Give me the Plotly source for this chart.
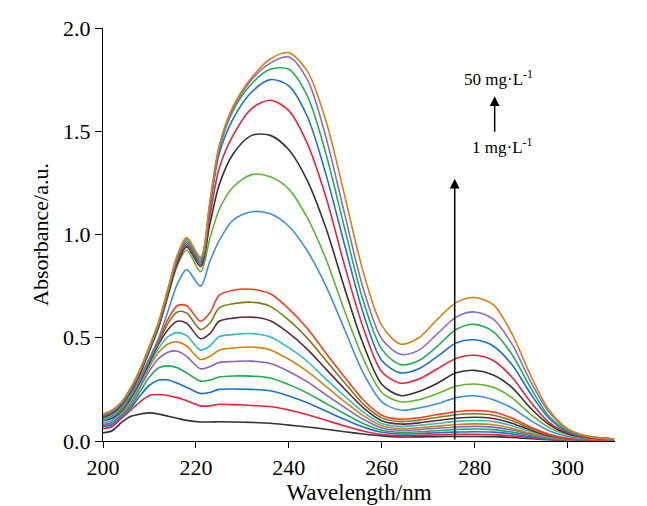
import plotly.graph_objects as go

wavelength = [200, 202, 204, 206, 208, 210, 212, 214, 216, 218, 221, 223, 225, 228, 232,
              236, 240, 244, 248, 252, 256, 260, 264, 268, 272, 276, 280, 284, 288, 292,
              296, 300, 305, 310]

# low-concentration curves (bottom to top)
s01 = [0.04, 0.05, 0.09, 0.12, 0.13, 0.136, 0.13, 0.12, 0.11, 0.10, 0.092, 0.092, 0.093, 0.092, 0.09, 0.086, 0.077, 0.068, 0.057, 0.045, 0.034, 0.025, 0.02, 0.02, 0.021, 0.022, 0.022, 0.021, 0.017, 0.011, 0.006, 0.003, 0.002, 0.001]
s02 = [0.06, 0.07, 0.11, 0.15, 0.19, 0.22, 0.225, 0.22, 0.21, 0.195, 0.17, 0.17, 0.178, 0.176, 0.172, 0.167, 0.15, 0.127, 0.10, 0.073, 0.048, 0.031, 0.025, 0.027, 0.03, 0.032, 0.033, 0.031, 0.025, 0.016, 0.008, 0.004, 0.002, 0.001]
s03 = [0.07, 0.08, 0.12, 0.16, 0.22, 0.27, 0.295, 0.295, 0.28, 0.26, 0.23, 0.235, 0.25, 0.252, 0.25, 0.243, 0.218, 0.185, 0.145, 0.105, 0.068, 0.042, 0.034, 0.036, 0.04, 0.043, 0.045, 0.043, 0.034, 0.021, 0.01, 0.005, 0.002, 0.002]
s04 = [0.075, 0.09, 0.125, 0.17, 0.24, 0.31, 0.355, 0.364, 0.355, 0.33, 0.29, 0.295, 0.31, 0.315, 0.314, 0.305, 0.273, 0.232, 0.182, 0.132, 0.085, 0.052, 0.042, 0.045, 0.05, 0.056, 0.058, 0.055, 0.043, 0.027, 0.013, 0.006, 0.003, 0.002]
s05 = [0.08, 0.09, 0.13, 0.18, 0.26, 0.34, 0.40, 0.43, 0.435, 0.41, 0.35, 0.36, 0.38, 0.385, 0.387, 0.375, 0.337, 0.286, 0.224, 0.163, 0.105, 0.063, 0.052, 0.055, 0.062, 0.068, 0.071, 0.067, 0.053, 0.033, 0.016, 0.007, 0.003, 0.002]
s06 = [0.085, 0.10, 0.135, 0.19, 0.27, 0.36, 0.43, 0.47, 0.48, 0.46, 0.395, 0.41, 0.44, 0.45, 0.455, 0.441, 0.396, 0.337, 0.264, 0.191, 0.123, 0.074, 0.06, 0.064, 0.072, 0.08, 0.083, 0.079, 0.062, 0.038, 0.018, 0.008, 0.003, 0.002]
s07 = [0.09, 0.10, 0.14, 0.20, 0.28, 0.37, 0.45, 0.505, 0.525, 0.51, 0.44, 0.46, 0.505, 0.515, 0.52, 0.504, 0.452, 0.385, 0.30, 0.218, 0.14, 0.085, 0.071, 0.076, 0.085, 0.095, 0.099, 0.094, 0.074, 0.046, 0.022, 0.009, 0.004, 0.002]
s08 = [0.10, 0.11, 0.145, 0.21, 0.29, 0.38, 0.47, 0.54, 0.58, 0.57, 0.495, 0.52, 0.58, 0.595, 0.60, 0.582, 0.522, 0.444, 0.348, 0.252, 0.162, 0.098, 0.082, 0.088, 0.099, 0.11, 0.115, 0.109, 0.086, 0.053, 0.025, 0.01, 0.004, 0.003]
s09 = [0.11, 0.12, 0.15, 0.22, 0.30, 0.39, 0.48, 0.57, 0.625, 0.62, 0.54, 0.57, 0.645, 0.665, 0.672, 0.652, 0.585, 0.497, 0.39, 0.282, 0.18, 0.112, 0.094, 0.101, 0.114, 0.127, 0.132, 0.125, 0.099, 0.061, 0.029, 0.011, 0.005, 0.003]
s10 = [0.12, 0.13, 0.16, 0.22, 0.31, 0.40, 0.49, 0.59, 0.655, 0.655, 0.58, 0.62, 0.705, 0.73, 0.735, 0.713, 0.64, 0.545, 0.425, 0.31, 0.20, 0.125, 0.105, 0.113, 0.128, 0.142, 0.148, 0.14, 0.111, 0.068, 0.033, 0.013, 0.005, 0.003]
# high-concentration curves
s11 = [0.10, 0.12, 0.16, 0.22, 0.30, 0.40, 0.50, 0.63, 0.76, 0.83, 0.75, 0.87, 0.97, 1.07, 1.11, 1.10, 1.04, 0.92, 0.75, 0.54, 0.33, 0.19, 0.15, 0.16, 0.18, 0.21, 0.219, 0.20, 0.16, 0.10, 0.05, 0.022, 0.01, 0.006]
s12 = [0.11, 0.13, 0.17, 0.235, 0.325, 0.435, 0.55, 0.70, 0.85, 0.925, 0.82, 0.98, 1.12, 1.23, 1.29, 1.28, 1.22, 1.08, 0.88, 0.63, 0.40, 0.235, 0.19, 0.20, 0.23, 0.265, 0.276, 0.26, 0.21, 0.13, 0.065, 0.03, 0.012, 0.008]
s13 = [0.115, 0.135, 0.175, 0.24, 0.33, 0.44, 0.555, 0.71, 0.86, 0.94, 0.845, 1.05, 1.24, 1.39, 1.48, 1.48, 1.41, 1.26, 1.03, 0.74, 0.47, 0.275, 0.22, 0.24, 0.28, 0.33, 0.342, 0.32, 0.26, 0.16, 0.08, 0.035, 0.015, 0.01]
s14 = [0.12, 0.14, 0.18, 0.245, 0.335, 0.445, 0.56, 0.72, 0.87, 0.95, 0.855, 1.09, 1.32, 1.48, 1.61, 1.65, 1.60, 1.44, 1.18, 0.85, 0.55, 0.335, 0.28, 0.30, 0.35, 0.40, 0.415, 0.39, 0.31, 0.19, 0.09, 0.04, 0.015, 0.01]
s15 = [0.12, 0.14, 0.18, 0.25, 0.34, 0.45, 0.565, 0.725, 0.88, 0.96, 0.865, 1.13, 1.39, 1.56, 1.69, 1.75, 1.72, 1.57, 1.29, 0.95, 0.62, 0.39, 0.33, 0.35, 0.41, 0.475, 0.49, 0.46, 0.37, 0.23, 0.11, 0.045, 0.02, 0.01]
s16 = [0.125, 0.145, 0.185, 0.25, 0.34, 0.45, 0.57, 0.73, 0.89, 0.97, 0.875, 1.14, 1.41, 1.60, 1.73, 1.80, 1.80, 1.67, 1.39, 1.03, 0.68, 0.445, 0.37, 0.39, 0.46, 0.54, 0.565, 0.53, 0.42, 0.26, 0.12, 0.05, 0.02, 0.01]
s17 = [0.125, 0.145, 0.185, 0.255, 0.345, 0.455, 0.575, 0.735, 0.895, 0.98, 0.885, 1.15, 1.42, 1.61, 1.75, 1.83, 1.86, 1.75, 1.47, 1.10, 0.74, 0.495, 0.42, 0.44, 0.52, 0.60, 0.625, 0.59, 0.47, 0.29, 0.14, 0.055, 0.02, 0.01]
s18 = [0.13, 0.15, 0.19, 0.26, 0.35, 0.46, 0.58, 0.74, 0.90, 0.985, 0.89, 1.16, 1.43, 1.62, 1.76, 1.85, 1.88, 1.79, 1.55, 1.19, 0.82, 0.56, 0.47, 0.50, 0.59, 0.67, 0.695, 0.66, 0.52, 0.32, 0.15, 0.06, 0.02, 0.01]

series = [s01, s02, s03, s04, s05, s06, s07, s08, s09, s10,
          s11, s12, s13, s14, s15, s16, s17, s18]
colors = ["#333333", "#F0203C", "#1E6FD0", "#20AA50", "#8A62C4", "#D4820F",
          "#2FBDBD", "#5C2A3C", "#7D7A16", "#FF3A1F",
          "#3D8FE0", "#5DB52E", "#333333", "#F0203C", "#1E6FD0", "#1FAE55",
          "#8E6BC8", "#D9800F"]

x_ticks = [200, 220, 240, 260, 280, 300]
y_ticks = [0.0, 0.5, 1.0, 1.5, 2.0]

FONT = "Liberation Serif"

fig = go.Figure()
for ys, c in zip(series, colors):
    fig.add_trace(go.Scatter(x=wavelength, y=ys, mode="lines",
                             line=dict(color=c, width=1.6, shape="spline", smoothing=0.85),
                             showlegend=False, hoverinfo="skip"))

# concentration arrow
fig.add_annotation(x=275.7, y=1.27, ax=275.7, ay=0.0, xref="x", yref="y",
                   axref="x", ayref="y", text="", showarrow=True,
                   arrowhead=2, arrowsize=1.3, arrowwidth=1.5, arrowcolor="black")
fig.add_annotation(x=284.3, y=1.67, ax=284.3, ay=1.49, xref="x", yref="y",
                   axref="x", ayref="y", text="", showarrow=True,
                   arrowhead=2, arrowsize=1.3, arrowwidth=1.5, arrowcolor="black")
fig.add_annotation(x=285.2, y=1.76, xref="x", yref="y", showarrow=False,
                   text="50 mg·L<sup>-1</sup>", font=dict(family=FONT, size=17, color="black"))
fig.add_annotation(x=285.8, y=1.43, xref="x", yref="y", showarrow=False,
                   text="1 mg·L<sup>-1</sup>", font=dict(family=FONT, size=17, color="black"))

fig.update_layout(
    width=639, height=498,
    margin=dict(l=95, r=32, t=20, b=65),
    paper_bgcolor="white", plot_bgcolor="white",
    font=dict(family=FONT, color="black"),
)
fig.update_xaxes(range=[200, 310.2], tickvals=x_ticks, ticks="outside", ticklen=6,
                 tickwidth=1.3, tickcolor="black", showline=True, linecolor="black",
                 linewidth=1.3, showgrid=False, zeroline=False, automargin=False,
                 tickfont=dict(family=FONT, size=22),
                 title=dict(text="Wavelength/nm", font=dict(family=FONT, size=23), standoff=4))
fig.update_yaxes(range=[0, 2.0], tickvals=y_ticks, tickformat=".1f", ticks="outside",
                 ticklen=7, tickwidth=1.3, tickcolor="black", showline=True,
                 linecolor="black", linewidth=1.3, showgrid=False, zeroline=False,
                 automargin=False,
                 tickfont=dict(family=FONT, size=22),
                 title=dict(text="Absorbance/a.u.", font=dict(family=FONT, size=22), standoff=8))

fig.write_html("out.html")
